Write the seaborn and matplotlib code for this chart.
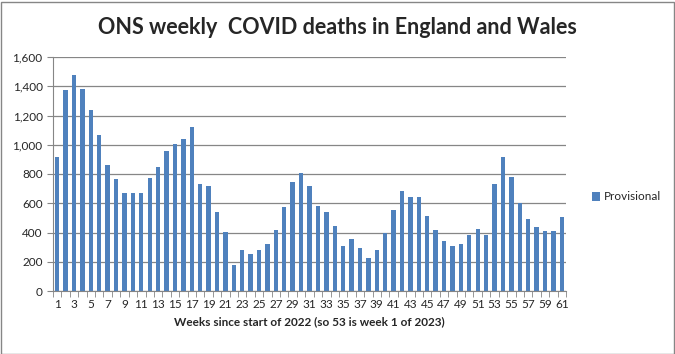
import matplotlib
matplotlib.use("Agg")
import matplotlib.pyplot as plt
import matplotlib.ticker as mticker
from matplotlib.patches import Rectangle
import seaborn as sns
import pandas as pd

weeks = list(range(1, 62))
deaths = [915, 1375, 1478, 1381, 1237, 1065, 859, 763, 667, 670,
          673, 776, 845, 955, 1003, 1038, 1120, 735, 715, 543,
          405, 179, 282, 254, 282, 323, 419, 577, 742, 804,
          715, 584, 543, 447, 309, 357, 296, 227, 282, 399,
          557, 687, 646, 646, 515, 419, 344, 309, 323, 385,
          426, 385, 735, 914, 777, 605, 495, 440, 412, 412, 508]
series_name = "Provisional"
title = "ONS weekly  COVID deaths in England and Wales"
xlabel = "Weeks since start of 2022 (so 53 is week 1 of 2023)"
yticks = [0, 200, 400, 600, 800, 1000, 1200, 1400, 1600]

df = pd.DataFrame({"week": [str(w) for w in weeks], "deaths": deaths, "series": series_name})

sns.set_style("white")
plt.rcParams['font.family'] = ['Lato', 'DejaVu Sans']

fig = plt.figure(figsize=(6.75, 3.54), dpi=100)
ax = fig.add_axes([53/675, 1 - 291/354, (566-53)/675, (291-57)/354])

sns.barplot(data=df, x="week", y="deaths", hue="series", palette=["#4F81BD"],
            width=0.52, linewidth=0, edgecolor="none", saturation=1, ax=ax, legend=True)

ax.set_ylim(0, 1600)
ax.set_xlim(-0.5, len(weeks) - 0.5)
ax.set_yticks(yticks)
ax.yaxis.set_major_formatter(mticker.FuncFormatter(lambda v, p: f"{int(v):,}"))
ax.grid(axis="y", color="#868686", linewidth=0.9)
ax.set_axisbelow(True)

ax.set_xticks([i for i in range(len(weeks)) if i % 2 == 0])
ax.set_xticklabels([str(w) for i, w in enumerate(weeks) if i % 2 == 0])
ax.set_xticks([i - 0.5 for i in range(len(weeks) + 1)], minor=True)
ax.tick_params(axis="x", which="major", length=0, labelsize=8.5, pad=6)
ax.tick_params(axis="x", which="minor", length=4, color="#868686", direction="out")
ax.tick_params(axis="y", length=4, color="#868686", labelsize=8.5, direction="out")
ax.xaxis.set_tick_params(bottom=True, which="both")
ax.yaxis.set_tick_params(left=True)

for s in ["top", "right"]:
    ax.spines[s].set_visible(False)
for s in ["left", "bottom"]:
    ax.spines[s].set_color("#868686")

ax.set_xlabel(xlabel, fontsize=8.5, fontweight="bold", labelpad=4)
ax.set_ylabel("")

leg = ax.legend(loc="center left", bbox_to_anchor=(1.03, 0.5 - (197 - 174)/234), frameon=False,
                fontsize=8.5, handlelength=0.7, handleheight=0.7, handletextpad=0.3)

fig.text(337/675, 1 - 28/354, title, ha="center", va="center", fontsize=15.5, fontweight="bold")

fig.patches.append(Rectangle((0.5/675, 0.5/354), 673/675, 352/354, transform=fig.transFigure,
                             fill=False, edgecolor="#868686", linewidth=1))

fig.savefig("out.png", dpi=100)
